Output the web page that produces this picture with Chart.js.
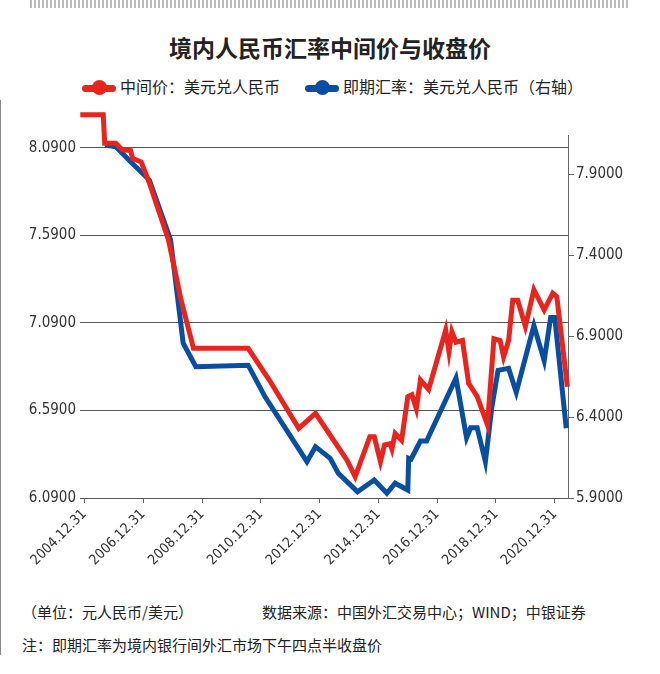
<!DOCTYPE html>
<html><head><meta charset="utf-8">
<script src="https://cdn.jsdelivr.net/npm/chart.js@4"></script>
<style>
body{margin:0;width:660px;height:674px;background:#fff;position:relative;overflow:hidden;font-family:"Noto Sans CJK SC",sans-serif;}
#top{position:absolute;left:30px;top:0;width:600px;height:8px;background:repeating-linear-gradient(90deg,#bbb 0 2px,#fff 2px 4px);}
#border{position:absolute;left:0;top:100px;width:1px;height:555px;background:#888;}
#title{position:absolute;top:30px;left:0;width:660px;text-align:center;font-size:23px;font-weight:bold;color:#222;}
.leg{position:absolute;top:74px;font-size:16px;color:#222;}
.leg i{display:inline-block;width:34px;height:7px;border-radius:4px;vertical-align:middle;margin-right:4px;position:relative;}
.leg i:after{content:"";position:absolute;left:10px;top:-5px;width:15px;height:15px;border-radius:50%;background:inherit;}
.note{position:absolute;font-size:15px;color:#222;}
#wrap{position:absolute;left:0;top:100px;width:660px;height:480px;}
</style></head><body>
<div id="top"></div><div id="border"></div>
<div id="title">境内人民币汇率中间价与收盘价</div>
<div class="leg" style="left:82px"><i style="background:#e8251d"></i>中间价：美元兑人民币</div>
<div class="leg" style="left:305px"><i style="background:#0a4ea2"></i>即期汇率：美元兑人民币（右轴）</div>
<div class="note" style="left:22px;top:601px">（单位：元人民币/美元）</div>
<div class="note" style="left:262px;top:601px">数据来源：中国外汇交易中心；WIND；中银证券</div>
<div class="note" style="left:22px;top:634px">注：即期汇率为境内银行间外汇市场下午四点半收盘价</div>
<div id="wrap"><canvas id="c" width="660" height="480"></canvas></div>
<script>
const midX=[2004.86,2005.64,2005.69,2006.07,2006.29,2006.57,2006.64,2006.93,2007.21,2007.86,2008.29,2008.71,2010.57,2011.29,2012.29,2012.86,2013.93,2014.21,2014.71,2014.86,2015.07,2015.21,2015.4,2015.46,2015.57,2015.79,2016.0,2016.14,2016.29,2016.43,2016.71,2017.29,2017.4,2017.5,2017.64,2017.86,2018.07,2018.36,2018.71,2018.93,2019.14,2019.26,2019.43,2019.57,2019.74,2020.0,2020.29,2020.64,2020.93,2021.07,2021.43];
const midY=[8.279,8.279,8.117,8.117,8.079,8.075,8.03,8.01,7.89,7.564,7.22,6.945,6.945,6.764,6.488,6.574,6.307,6.212,6.44,6.44,6.298,6.393,6.40,6.37,6.459,6.42,6.669,6.68,6.60,6.764,6.71,7.05,6.926,7.04,6.98,6.99,6.745,6.67,6.507,7.00,6.99,6.897,6.99,7.22,7.22,7.07,7.28,7.164,7.26,7.24,6.726];
const spotX=[2005.71,2006.07,2006.57,2007.21,2007.93,2008.36,2008.79,2010.57,2011.14,2012.57,2012.86,2013.36,2013.64,2014.29,2014.86,2015.29,2015.57,2016.0,2016.03,2016.11,2016.43,2016.64,2017.64,2018.0,2018.14,2018.36,2018.64,2018.86,2019.07,2019.43,2019.69,2020.29,2020.64,2020.86,2021.0,2021.39];
const spotY=[8.079,8.069,7.976,7.863,7.494,6.855,6.71,6.72,6.526,6.124,6.217,6.145,6.052,5.939,6.011,5.929,5.991,5.949,6.145,6.14,6.252,6.252,6.641,6.272,6.334,6.334,6.124,6.462,6.688,6.70,6.552,6.964,6.748,7.015,7.015,6.33];
const leftTicks=[6.09,6.59,7.09,7.59,8.09];
const rightTicks=[5.9,6.4,6.9,7.4,7.9];
const xTicks=[2005,2007,2009,2011,2013,2015,2017,2019,2021];
const pts=(xs,ys)=>xs.map((x,i)=>({x,y:ys[i]}));
const F='"DejaVu Sans Condensed","Liberation Sans",sans-serif';
new Chart(document.getElementById('c'),{type:'line',
data:{datasets:[
{data:pts(midX,midY),borderColor:'#e8251d',borderWidth:5,pointRadius:0,yAxisID:'yL',order:0,clip:false,tension:0},
{data:pts(spotX,spotY),borderColor:'#0a4ea2',borderWidth:5,pointRadius:0,yAxisID:'yR',order:1,clip:false,tension:0}]},
options:{responsive:false,animation:false,devicePixelRatio:1,
layout:{padding:{top:35,left:0,right:0,bottom:0}},
plugins:{legend:{display:false},tooltip:{enabled:false}},
scales:{
x:{type:'linear',min:2004.85,max:2021.45,afterBuildTicks:a=>{a.ticks=xTicks.map(v=>({value:v}));},
 grid:{display:true,drawOnChartArea:false,drawTicks:true,tickLength:5,color:'#666'},border:{display:false},
 ticks:{maxRotation:45,minRotation:45,autoSkip:false,color:'#333',font:{family:F,size:14},callback:v=>(v-1)+'.12.31'},
 afterFit:a=>{a.height=82;}},
yL:{position:'left',min:6.09,max:8.164,afterBuildTicks:a=>{a.ticks=leftTicks.map(v=>({value:v}));},
 grid:{color:'#555',lineWidth:1,drawTicks:false},border:{display:false},
 ticks:{color:'#333',padding:4,font:{family:F,size:15},callback:v=>v.toFixed(4)},afterFit:a=>{a.width=80;}},
yR:{position:'right',min:5.9,max:8.141,afterBuildTicks:a=>{a.ticks=rightTicks.map(v=>({value:v}));},
 grid:{drawOnChartArea:false,tickLength:6,color:'#666'},border:{display:true,color:'#666'},
 ticks:{color:'#333',padding:2,font:{family:F,size:15},callback:v=>v.toFixed(4)},afterFit:a=>{a.width=92;}}
}}});
</script>
</body></html>
